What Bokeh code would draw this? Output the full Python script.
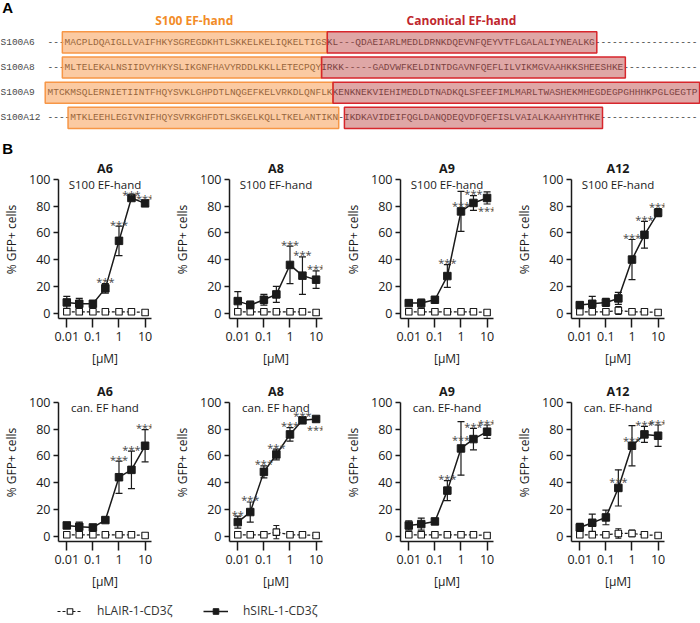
import math
from bokeh.plotting import figure
from bokeh.models import (Range1d, FixedTicker, ColumnDataSource, Whisker, TeeHead,
                          Legend, LegendItem, CustomJSTickFormatter, Label)
from bokeh.layouts import column, row
from bokeh.embed import file_html
from bokeh.resources import INLINE
from bokeh.core.properties import value

# ---------------- Panel A data: alignment ----------------
seq_names = ["S100A6", "S100A8", "S100A9", "S100A12"]
seq_a6 = "---" + "MACPLDQAIGLLVAIFHKYSGREGDKHTLSKKELKELIQKELTIGS" + "KL---" + "QDAEIARLMEDLDRNKDQEVNFQEYVTFLGALALIYNEALKG"
seq_a8 = "---" + "MLTELEKALNSIIDVYHKYSLIKGNFHAVYRDDLKKLLETECPQY" + "IRKK-----" + "GADVWFKELDINTDGAVNFQEFLILVIKMGVAAHKKSHEESHKE"
seq_a9 = "MTCKMSQLERNIETIINTFHQYSVKLGHPDTLNQGEFKELVRKDLQNFLK" + "KENKNEKVIEHIMEDLDTNADKQLSFEEFIMLMARLTWASHEKMHEGDEGPGHHHKPGLGEGTP"
seq_a12 = "----" + "MTKLEEHLEGIVNIFHQYSVRKGHFDTLSKGELKQLLTKELANTIKN" + "-" + "IKDKAVIDEIFQGLDANQDEQVDFQEFISLVAIALKAAHYHTHKE"
align_len = 114
s100_start = [3, 3, 0, 4]
s100_end = [49, 48, 50, 51]
can_start = [49, 48, 50, 52]
can_end = [96, 101, 114, 97]

# ---------------- Panel B data ----------------
conc_uM = [0.01, 0.03, 0.1, 0.3, 1, 3, 10]
panel_titles = ["A6", "A8", "A9", "A12", "A6", "A8", "A9", "A12"]
panel_subtitles = ["S100 EF-hand", "S100 EF-hand", "S100 EF-hand", "S100 EF-hand",
                   "can. EF hand", "can. EF hand", "can. EF-hand", "can. EF-hand"]

a6_s100_sirl = [8, 7, 7, 18.5, 54, 86, 82]
a6_s100_sirl_sd = [4.5, 4, 1.5, 3.5, 11, 1, 2]
a6_s100_lair = [1, 1, 1, 1, 1, 1, 0.5]
a6_s100_lair_sd = [0.5, 0.5, 0.5, 0.5, 0.5, 0.5, 0.5]
a6_s100_stars = ["", "", "", "***", "***", "***", "***"]

a8_s100_sirl = [9, 6, 10, 14, 36, 28, 25]
a8_s100_sirl_sd = [7, 3, 4, 6, 14, 14, 6.5]
a8_s100_lair = [1, 1, 1, 1, 1, 1, 0.5]
a8_s100_lair_sd = [0.5, 0.5, 0.5, 0.5, 0.5, 0.5, 0.5]
a8_s100_stars = ["", "", "", "", "***", "***", "***"]

a9_s100_sirl = [7.5, 7.5, 10, 27.7, 76, 82.3, 86]
a9_s100_sirl_sd = [1.5, 3, 1, 8.5, 15, 5.5, 4.5]
a9_s100_lair = [1, 1, 1, 1, 1, 1, 0.5]
a9_s100_lair_sd = [0.5, 0.5, 0.5, 0.5, 0.5, 0.5, 0.5]
a9_s100_stars = ["", "", "", "***", "***", "***", "***"]

a12_s100_sirl = [6, 7, 8, 11, 40, 58.5, 75]
a12_s100_sirl_sd = [1, 5.5, 3, 4.5, 15, 10, 3]
a12_s100_lair = [1, 1, 1, 2, 1, 1, 0.5]
a12_s100_lair_sd = [0.5, 0.5, 0.5, 3, 0.5, 0.5, 0.5]
a12_s100_stars = ["", "", "", "", "***", "***", "***"]

a6_can_sirl = [8, 7, 6.5, 12, 44, 49.5, 67.5]
a6_can_sirl_sd = [2, 3.5, 1, 2, 12, 14, 12]
a6_can_lair = [1, 1, 1, 1, 1, 1, 0.5]
a6_can_lair_sd = [0.5, 0.5, 0.5, 0.5, 0.5, 0.5, 0.5]
a6_can_stars = ["", "", "", "", "***", "***", "***"]

a8_can_sirl = [10.5, 18, 48, 61, 76, 86.5, 87.5]
a8_can_sirl_sd = [4.5, 7.5, 4.5, 4, 5, 2, 1]
a8_can_lair = [1, 1, 1, 3, 1, 1, 0.5]
a8_can_lair_sd = [0.5, 0.5, 0.5, 5, 0.5, 0.5, 0.5]
a8_can_stars = ["**", "***", "***", "***", "***", "***", "***"]

a9_can_sirl = [8, 9, 11, 34, 65.5, 72.5, 78]
a9_can_sirl_sd = [3.5, 4.5, 2, 7.5, 20, 8, 5]
a9_can_lair = [1, 1, 1, 1, 1, 1, 0.5]
a9_can_lair_sd = [0.5, 0.5, 0.5, 0.5, 0.5, 0.5, 0.5]
a9_can_stars = ["", "", "", "***", "***", "***", "***"]

a12_can_sirl = [6.5, 10, 14, 36, 67.5, 76, 75]
a12_can_sirl_sd = [3, 6.5, 5.5, 13.5, 15, 6, 8]
a12_can_lair = [1, 1, 1, 2, 2, 1, 0.5]
a12_can_lair_sd = [0.5, 0.5, 0.5, 3.5, 2.5, 0.5, 0.5]
a12_can_stars = ["", "", "", "***", "***", "***", "***"]

# star anchors that sit beside / below the point instead of above the error bar
star_y_override = {(2, 4): 82, (2, 6): 78.3, (5, 6): 81.5, (6, 4): 74, (7, 3): 42, (7, 4): 73.3}

panels = [
    (a6_s100_sirl, a6_s100_sirl_sd, a6_s100_lair, a6_s100_lair_sd, a6_s100_stars),
    (a8_s100_sirl, a8_s100_sirl_sd, a8_s100_lair, a8_s100_lair_sd, a8_s100_stars),
    (a9_s100_sirl, a9_s100_sirl_sd, a9_s100_lair, a9_s100_lair_sd, a9_s100_stars),
    (a12_s100_sirl, a12_s100_sirl_sd, a12_s100_lair, a12_s100_lair_sd, a12_s100_stars),
    (a6_can_sirl, a6_can_sirl_sd, a6_can_lair, a6_can_lair_sd, a6_can_stars),
    (a8_can_sirl, a8_can_sirl_sd, a8_can_lair, a8_can_lair_sd, a8_can_stars),
    (a9_can_sirl, a9_can_sirl_sd, a9_can_lair, a9_can_lair_sd, a9_can_stars),
    (a12_can_sirl, a12_can_sirl_sd, a12_can_lair, a12_can_lair_sd, a12_can_stars),
]

legend_labels = ["hLAIR-1-CD3\u03b6", "hSIRL-1-CD3\u03b6"]

# ---------------- styles ----------------
INK = "#1a1a1a"
SANS = "Open Sans"
MONO = "Liberation Mono"
ORANGE = "#F79646"
ORANGE_TXT = "#F28C28"
RED_FILL = "#C0504D"
RED_LINE = "#D7262C"
RED_TXT = "#C0272D"

# ---------------- Panel A figure ----------------
W = 700
XA0, XA1 = -8.23, 114.36
pa = figure(width=W, height=158, x_range=Range1d(XA0, XA1), y_range=Range1d(4.61, -1.66),
            min_border=0, x_axis_location=None, y_axis_location=None,
            output_backend="svg", toolbar_location=None)
pa.grid.visible = False
pa.outline_line_color = None

rows_y = list(range(len(seq_names)))
seqs = [s.ljust(align_len, "-") for s in [seq_a6, seq_a8, seq_a9, seq_a12]]
pa.text(x=[XA0] * 4, y=rows_y, text=seq_names, text_font=value(MONO), text_font_size="9.5px",
        text_align="left", text_baseline="middle", text_color="#4a4a4a")
pa.text(x=[0] * 4, y=rows_y, text=seqs, text_font=value(MONO), text_font_size="9.5px",
        text_align="left", text_baseline="middle", text_color="#333333")
BH = 0.42
pa.quad(left=[s - 0.4 for s in s100_start], right=s100_end,
        top=[r - BH for r in rows_y], bottom=[r + BH for r in rows_y],
        fill_color=ORANGE, fill_alpha=0.5, line_color=ORANGE, line_width=1.5)
pa.quad(left=can_start, right=[e + 0.2 for e in can_end],
        top=[r - BH for r in rows_y], bottom=[r + BH for r in rows_y],
        fill_color=RED_FILL, fill_alpha=0.5, line_color=RED_LINE, line_width=1.5)
pa.add_layout(Label(x=25.7, y=-0.87, text="S100 EF-hand", text_align="center", text_baseline="middle",
                    text_font=SANS, text_font_style="bold", text_font_size="12px", text_color=ORANGE_TXT))
pa.add_layout(Label(x=72.5, y=-0.87, text="Canonical EF-hand", text_align="center", text_baseline="middle",
                    text_font=SANS, text_font_style="bold", text_font_size="12px", text_color=RED_TXT))
pa.add_layout(Label(x=XA0 + 0.3, y=-1.38, text="A", text_align="left", text_baseline="middle",
                    text_font="Liberation Sans", text_font_style="bold", text_font_size="15px", text_color="black"))
pa.add_layout(Label(x=XA0 + 0.3, y=4.21, text="B", text_align="left", text_baseline="middle",
                    text_font="Liberation Sans", text_font_style="bold", text_font_size="15px", text_color="black"))

# ---------------- Panel B figures ----------------
XMIN, XMAX = 0.00481, 17.6
YMIN, YMAX = -4, 114
XC = 10 ** ((math.log10(XMIN) + math.log10(XMAX)) / 2)


def make_panel(k):
    sirl, sirl_sd, lair, lair_sd, stars = panels[k]
    r, c = divmod(k, 4)
    p = figure(x_axis_type="log", x_range=Range1d(XMIN, XMAX), y_range=Range1d(YMIN, YMAX),
               frame_width=93, frame_height=158,
               min_border_left=55, min_border_right=48 if c == 3 else 20,
               min_border_top=2, min_border_bottom=63 if r == 0 else 52,
               output_backend="svg", toolbar_location=None)
    p.grid.visible = False
    p.outline_line_color = None
    p.background_fill_color = "white"
    p.border_fill_color = "white"

    for ax in (p.xaxis[0], p.yaxis[0]):
        ax.axis_line_width = 1.5
        ax.axis_line_color = INK
        ax.major_tick_line_width = 1.5
        ax.major_tick_line_color = INK
        ax.major_tick_in = 0
        ax.minor_tick_line_color = None
        ax.major_label_text_font = SANS
        ax.major_label_text_font_size = "12.5px"
        ax.major_label_text_color = INK
        ax.axis_label_text_font = SANS
        ax.axis_label_text_font_size = "12px"
        ax.axis_label_text_font_style = "normal"
        ax.axis_label_text_color = INK

    xa = p.xaxis[0]
    xa.ticker = FixedTicker(ticks=[0.01, 0.1, 1, 10], minor_ticks=[])
    xa.formatter = CustomJSTickFormatter(code="return tick.toString();")
    xa.major_tick_out = 9
    xa.major_label_standoff = 4
    xa.axis_label = "[\u00b5M]"
    xa.axis_label_standoff = 6

    ya = p.yaxis[0]
    ya.ticker = FixedTicker(ticks=[0, 20, 40, 60, 80, 100], minor_ticks=[])
    ya.bounds = (YMIN, 100)
    ya.major_tick_out = 5
    ya.major_label_standoff = 3
    ya.axis_label = "% GFP+ cells"
    ya.axis_label_standoff = 6

    # hLAIR-1 (open squares, dashed)
    src_l = ColumnDataSource(dict(x=conc_uM, y=lair,
                                  lo=[m - s for m, s in zip(lair, lair_sd)],
                                  hi=[m + s for m, s in zip(lair, lair_sd)]))
    p.add_layout(Whisker(source=src_l, base="x", lower="lo", upper="hi", line_color=INK, line_width=1.1,
                         upper_head=TeeHead(size=6, line_color=INK, line_width=1.1),
                         lower_head=TeeHead(size=6, line_color=INK, line_width=1.1)))
    p.line("x", "y", source=src_l, line_dash="3 2", line_width=1.2, line_color=INK)
    p.scatter("x", "y", source=src_l, marker="square", size=6.5, fill_color="white",
              line_color=INK, line_width=1.1)

    # hSIRL-1 (filled squares, solid)
    src_s = ColumnDataSource(dict(x=conc_uM, y=sirl,
                                  lo=[m - s for m, s in zip(sirl, sirl_sd)],
                                  hi=[m + s for m, s in zip(sirl, sirl_sd)]))
    p.add_layout(Whisker(source=src_s, base="x", lower="lo", upper="hi", line_color=INK, line_width=1.2,
                         upper_head=TeeHead(size=7, line_color=INK, line_width=1.2),
                         lower_head=TeeHead(size=7, line_color=INK, line_width=1.2)))
    p.line("x", "y", source=src_s, line_width=1.5, line_color=INK)
    p.scatter("x", "y", source=src_s, marker="square", size=7.5, fill_color=INK, line_color=INK)

    # significance stars
    sx, sy, st = [], [], []
    for i, s in enumerate(stars):
        if not s:
            continue
        yv = star_y_override.get((k, i), sirl[i] + sirl_sd[i] + 3)
        sx.append(conc_uM[i]); sy.append(yv - 1.5); st.append(s)
    p.text(x=sx, y=sy, text=st, text_align="center", text_baseline="middle",
           text_font=value(SANS), text_font_size="11px", text_color="#444444")

    p.add_layout(Label(x=XC, y=108, text=panel_titles[k], text_align="center", text_baseline="middle",
                       text_font=SANS, text_font_style="bold", text_font_size="12.5px", text_color=INK))
    p.add_layout(Label(x=XC, y=96, text=panel_subtitles[k], text_align="center", text_baseline="middle",
                       text_font=SANS, text_font_size="11.5px", text_color=INK))
    return p


figs = [make_panel(k) for k in range(8)]

# ---------------- legend ----------------
nan = float("nan")
pl = figure(width=W, height=28, x_range=Range1d(0, 1), y_range=Range1d(0, 1), min_border=0,
            x_axis_location=None, y_axis_location=None, output_backend="svg", toolbar_location=None)
pl.grid.visible = False
pl.outline_line_color = None
r1l = pl.line([nan], [nan], line_dash="3 2", line_width=1.2, line_color=INK)
r1s = pl.scatter([nan], [nan], marker="square", size=6.5, fill_color="white", line_color=INK, line_width=1.1)
r2l = pl.line([nan], [nan], line_width=1.5, line_color=INK)
r2s = pl.scatter([nan], [nan], marker="square", size=7, fill_color=INK, line_color=INK)
for items, loc in (([LegendItem(label=legend_labels[0], renderers=[r1l, r1s])], (57, 2)),
                   ([LegendItem(label=legend_labels[1], renderers=[r2l, r2s])], (203, 2))):
    leg = Legend(items=items, location=loc, orientation="horizontal", padding=0, margin=0,
                 border_line_color=None, background_fill_alpha=0, glyph_width=25, glyph_height=14,
                 label_height=14, label_standoff=15, spacing=0,
                 label_text_font=SANS, label_text_font_size="12px", label_text_color="#333333")
    pl.add_layout(leg)

layout = column(pa, row(*figs[:4]), row(*figs[4:]), pl)
open("out.html", "w").write(file_html(layout, INLINE))
